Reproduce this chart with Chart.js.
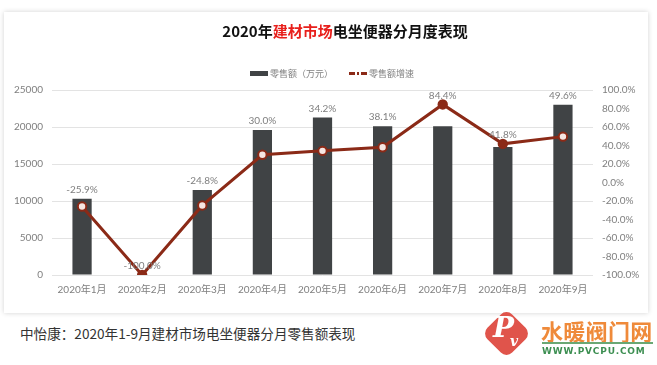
<!DOCTYPE html>
<html>
<head>
<meta charset="utf-8">
<script src="https://cdn.jsdelivr.net/npm/chart.js@4"></script>
<style>
  body { margin: 0; background: #fff; font-family: "Noto Sans CJK SC", sans-serif; }
  #stage { position: relative; width: 657px; height: 365px; overflow: hidden; }
  #card { position: absolute; left: 4px; top: 12px; width: 644px; height: 301px; background: #fff;
          box-shadow: 0 0 5px rgba(0,0,0,0.18); }
  #wrap { position: absolute; left: 0; top: 0; width: 657px; height: 310px; }
  #title { position: absolute; left: 0; width: 690px; top: 20px; text-align: center; font-size: 15px;
           font-weight: bold; color: #111; }
  #title span { color: #e8201c; }
  #legend { position: absolute; top: 66px; left: 250px; font-size: 9px; color: #7f7f7f; white-space: nowrap; }
  #legend .sw { display: inline-block; vertical-align: middle; }
  #caption { position: absolute; left: 20px; top: 323px; font-size: 13.6px; color: #333; }
  #logo { position: absolute; left: 489px; top: 316px; width: 35px; height: 35px; background: #e0544b;
          border-radius: 8px; transform: rotate(45deg); }
  #logoP { position: absolute; left: 493px; top: 312px; font-size: 28px; line-height: 32px; color: #fff;
           font-family: "DejaVu Serif", serif; font-style: italic; font-weight: bold; }
  #logoV { position: absolute; left: 510px; top: 333px; font-size: 14px; line-height: 16px; color: #fff;
           font-family: "DejaVu Serif", serif; font-style: italic; font-weight: bold; }
  #brand { position: absolute; left: 541px; top: 319px; font-size: 22px; line-height: 23px; color: #ef8a3a;
           font-weight: bold; letter-spacing: 0.3px; }
  #brandLine { position: absolute; left: 542px; top: 342px; width: 111px; height: 2px; background: #6aa874; }
  #url { position: absolute; left: 542px; top: 346px; font-size: 9px; line-height: 10px; font-weight: bold; color: #3d8f52;
         font-family: "DejaVu Sans", sans-serif; letter-spacing: 0.8px; }
</style>
</head>
<body>
<div id="stage">
  <div id="card"></div>
  <div id="wrap"><canvas id="chart" width="657" height="310"></canvas></div>
  <div id="title">2020年<span>建材市场</span>电坐便器分月度表现</div>
  <div id="legend">
    <span class="sw" style="width:18px;height:5px;background:#404345;"></span>
    <span style="vertical-align:middle;">零售额（万元）</span>
    <span class="sw" style="width:18px;height:3px;margin-left:14px;background:linear-gradient(to right,#8b2a17 0 6px,transparent 6px 8px,#8b2a17 8px 10px,transparent 10px 12px,#8b2a17 12px 18px);"></span>
    <span style="vertical-align:middle;">零售额增速</span>
  </div>
  <div id="caption">中怡康：2020年1-9月建材市场电坐便器分月零售额表现</div>
  <div id="logo"></div>
  <div id="logoP">P</div>
  <div id="logoV">v</div>
  <div id="brand">水暖阀门网</div>
  <div id="brandLine"></div>
  <div id="url">WWW.PVCPU.COM</div>
</div>
<script>
const months = ['2020年1月', '2020年2月', '2020年3月', '2020年4月', '2020年5月', '2020年6月', '2020年7月', '2020年8月', '2020年9月'];
const sales = [10300, 0, 11500, 19600, 21300, 20100, 20100, 17300, 23000];
const growth = [-25.9, -100.0, -24.8, 30.0, 34.2, 38.1, 84.4, 41.8, 49.6];
const leftTicks = [0, 5000, 10000, 15000, 20000, 25000];
const rightTicks = [-100, -80, -60, -40, -20, 0, 20, 40, 60, 80, 100];

const lineColor = '#8b2a17';
const solidPoints = [1, 6, 7];
const tickFont = { family: 'Lato, "Noto Sans CJK SC", sans-serif', size: 10 };

// draws the growth labels above the bar or point, whichever is higher
const valueLabels = {
  id: 'valueLabels',
  afterDatasetsDraw(chart) {
    const ctx = chart.ctx;
    const bars = chart.getDatasetMeta(1).data;
    const pts = chart.getDatasetMeta(0).data;
    ctx.save();
    ctx.font = '10px Lato, "Noto Sans CJK SC", sans-serif';
    ctx.fillStyle = '#7f7f7f';
    ctx.textAlign = 'center';
    ctx.textBaseline = 'middle';
    growth.forEach((g, i) => {
      const top = Math.min(bars[i].y, pts[i].y);
      ctx.fillText(g.toFixed(1) + '%', pts[i].x, top - 9);
    });
    ctx.restore();
  }
};

new Chart(document.getElementById('chart'), {
  data: {
    labels: months,
    datasets: [{
      type: 'line',
      label: '零售额增速',
      data: growth,
      yAxisID: 'y1',
      borderColor: lineColor,
      borderWidth: 3,
      pointRadius: 4.2,
      pointBorderWidth: 2,
      pointBorderColor: lineColor,
      pointBackgroundColor: ctx => solidPoints.includes(ctx.dataIndex) ? lineColor : '#f6e6e2',
      order: 0
    }, {
      type: 'bar',
      label: '零售额（万元）',
      data: sales,
      yAxisID: 'y',
      backgroundColor: '#404345',
      categoryPercentage: 1,
      barPercentage: 0.32,
      order: 1
    }]
  },
  options: {
    responsive: false,
    animation: false,
    layout: { padding: { top: 90, bottom: 0, left: 0, right: 0 } },
    plugins: { legend: { display: false }, tooltip: { enabled: false } },
    scales: {
      x: {
        grid: { display: false },
        border: { display: false },
        ticks: { color: '#7f7f7f', font: tickFont, padding: 1, maxRotation: 0, autoSkip: false },
        afterFit: s => { s.height = 35; }
      },
      y: {
        position: 'left',
        min: 0, max: 25000,
        afterBuildTicks: s => { s.ticks = leftTicks.map(v => ({ value: v })); },
        grid: { color: '#e3e3e3', drawTicks: false },
        border: { display: false },
        ticks: { color: '#7f7f7f', font: tickFont, padding: 9, autoSkip: false, callback: v => String(v) },
        afterFit: s => { s.width = 52; }
      },
      y1: {
        position: 'right',
        min: -100, max: 100,
        afterBuildTicks: s => { s.ticks = rightTicks.map(v => ({ value: v })); },
        grid: { display: false, drawTicks: false },
        border: { display: false },
        ticks: { color: '#7f7f7f', font: tickFont, padding: 9, autoSkip: false, callback: v => v.toFixed(1) + '%' },
        afterFit: s => { s.width = 64; }
      }
    }
  },
  plugins: [valueLabels]
});
</script>
</body>
</html>
